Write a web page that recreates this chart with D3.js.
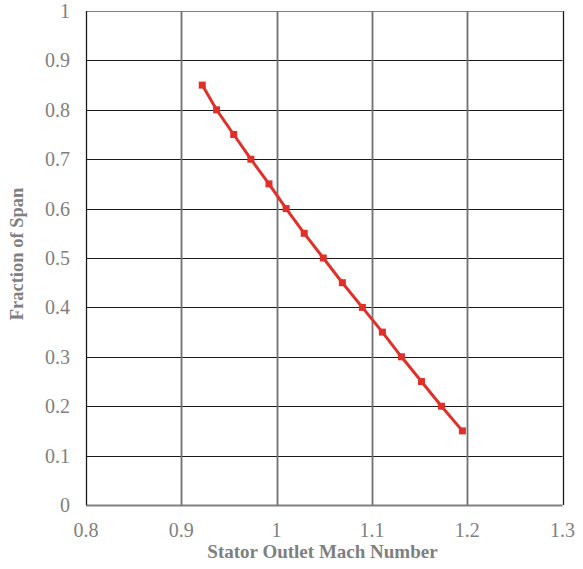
<!DOCTYPE html>
<html>
<head>
<meta charset="utf-8">
<script src="https://cdn.jsdelivr.net/npm/d3@7"></script>
<style>
  body { margin: 0; background: #fff; }
  svg { display: block; }
</style>
</head>
<body>
<div id="chart"></div>
<script>
// data
var machNumber = [0.922, 0.937, 0.955, 0.973, 0.992, 1.010, 1.029, 1.049, 1.069, 1.090, 1.111, 1.131, 1.152, 1.173, 1.195];
var spanFraction = [0.85, 0.8, 0.75, 0.7, 0.65, 0.6, 0.55, 0.5, 0.45, 0.4, 0.35, 0.3, 0.25, 0.2, 0.15];
var xTicks = [0.8, 0.9, 1, 1.1, 1.2, 1.3];
var yTicks = [0, 0.1, 0.2, 0.3, 0.4, 0.5, 0.6, 0.7, 0.8, 0.9, 1];

var lineColor = "#e0302a";
var labelColor = "#7f7f7f";

const width = 583, height = 569;
const margin = { left: 86, top: 11, right: 20, bottom: 64 };

let svg = d3.select("#chart")
  .append("svg")
  .attr("width", width)
  .attr("height", height);

let x = d3.scaleLinear().domain([0.8, 1.3]).range([margin.left, width - margin.right - 0.5]);
let y = d3.scaleLinear().domain([0, 1]).range([height - margin.bottom, margin.top]);

function textAttr(selection, size, weight) {
  selection
    .attr("fill", labelColor)
    .style("font-family", "'Liberation Serif', 'Times New Roman', serif")
    .style("font-size", size)
    .style("font-weight", weight || "normal");
}

// horizontal grid
svg.append("g")
  .selectAll("line")
  .data(yTicks)
  .enter()
  .append("line")
  .attr("x1", x(0.8))
  .attr("x2", x(1.3))
  .attr("y1", d => Math.round(y(d)) + 0.5)
  .attr("y2", d => Math.round(y(d)) + 0.5)
  .attr("stroke", d => d === 0 || d === 1 ? "#808080" : "#1a1a1a")
  .attr("stroke-width", d => d === 0 ? 2 : 1.2);

// vertical grid
svg.append("g")
  .selectAll("line")
  .data(xTicks)
  .enter()
  .append("line")
  .attr("x1", d => Math.round(x(d)) + 0.5)
  .attr("x2", d => Math.round(x(d)) + 0.5)
  .attr("y1", y(1))
  .attr("y2", y(0))
  .attr("stroke", d => d === 0.8 || d === 1.3 ? "#1a1a1a" : "#707070")
  .attr("stroke-width", d => d === 0.8 || d === 1.3 ? 1.3 : 1.8);

// y tick labels
svg.append("g")
  .selectAll("text")
  .data(yTicks)
  .enter()
  .append("text")
  .attr("x", x(0.8) - 16)
  .attr("y", d => y(d) + 7)
  .attr("text-anchor", "end")
  .text(d => d)
  .call(textAttr, "20px");

// x tick labels
svg.append("g")
  .selectAll("text")
  .data(xTicks)
  .enter()
  .append("text")
  .attr("x", d => x(d))
  .attr("y", y(0) + 32)
  .attr("text-anchor", "middle")
  .text(d => d)
  .call(textAttr, "20px");

// axis titles
svg.append("text")
  .attr("x", 322.5)
  .attr("y", 558)
  .attr("text-anchor", "middle")
  .text("Stator Outlet Mach Number")
  .call(textAttr, "19px", "bold");

svg.append("text")
  .attr("transform", `translate(23, 254) rotate(-90)`)
  .attr("text-anchor", "middle")
  .text("Fraction of Span")
  .call(textAttr, "18.5px", "bold");

// series
let points = machNumber.map((m, i) => ({ m: m, s: spanFraction[i] }));

svg.append("path")
  .datum(points)
  .attr("fill", "none")
  .attr("stroke", lineColor)
  .attr("stroke-width", 3)
  .attr("d", d3.line().x(d => x(d.m)).y(d => y(d.s)));

svg.append("g")
  .selectAll("rect")
  .data(points)
  .enter()
  .append("rect")
  .attr("x", d => x(d.m) - 3.5)
  .attr("y", d => y(d.s) - 3.5)
  .attr("width", 7)
  .attr("height", 7)
  .attr("fill", lineColor);
</script>
</body>
</html>
